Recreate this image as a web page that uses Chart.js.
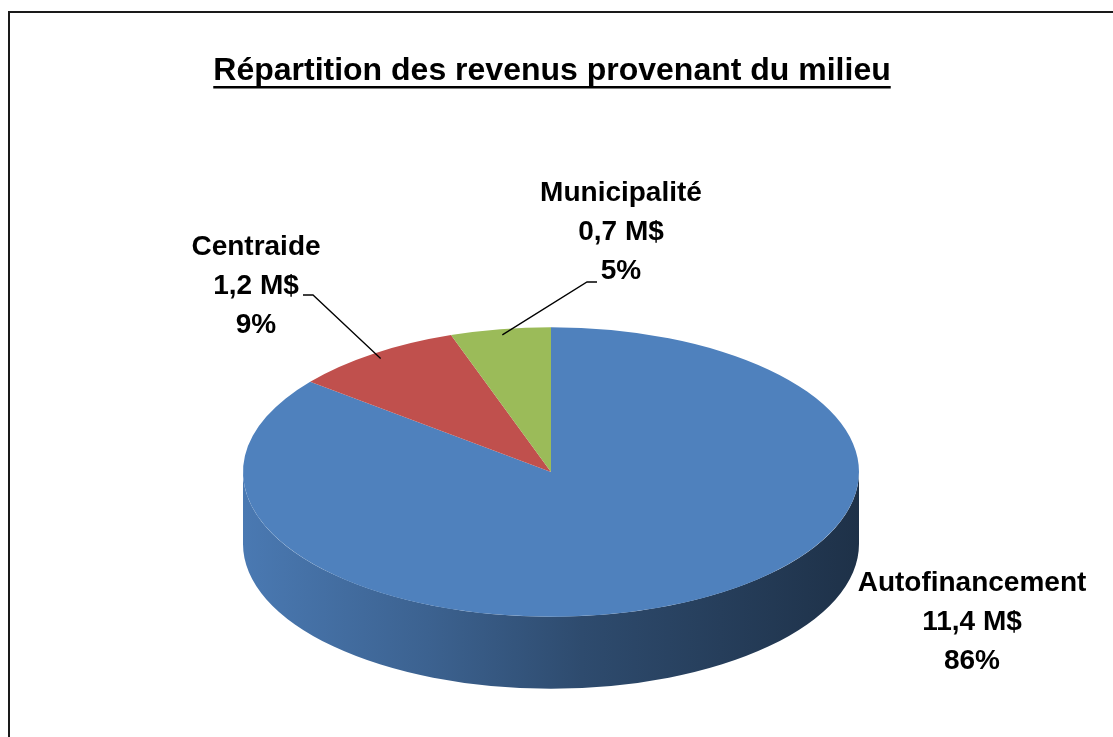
<!DOCTYPE html>
<html lang="fr">
<head>
<meta charset="utf-8">
<title>Répartition des revenus provenant du milieu</title>
<script src="https://cdn.jsdelivr.net/npm/chart.js@4.4.1/dist/chart.umd.min.js"></script>
<style>
  html, body { margin: 0; padding: 0; background: #fff; }
  canvas { display: block; }
</style>
</head>
<body>
<canvas id="pie" width="1113" height="737"></canvas>
<script>
const chartTitle = 'Répartition des revenus provenant du milieu';
const categories = ['Autofinancement', 'Centraide', 'Municipalité'];
const amounts = [11.4, 1.2, 0.7]; // en M$
const sliceColors = ['#4F81BD', '#C0504D', '#9BBB59'];

const FONT = '"Liberation Sans", Arial, sans-serif';

function shade(hex, f) {
  const n = parseInt(hex.slice(1), 16);
  const r = Math.round(((n >> 16) & 255) * f);
  const g = Math.round(((n >> 8) & 255) * f);
  const b = Math.round((n & 255) * f);
  return `rgb(${r},${g},${b})`;
}

function fmtAmount(v) {
  return v.toFixed(1).replace('.', ',') + ' M$';
}

// frame + underlined title
const framePlugin = {
  id: 'frame',
  beforeDraw(chart, args, opts) {
    const ctx = chart.ctx;
    ctx.save();
    ctx.fillStyle = '#fff';
    ctx.fillRect(0, 0, chart.width, chart.height);
    ctx.fillStyle = '#1a1a1a';
    ctx.fillRect(8, 11, 2, chart.height);
    ctx.fillRect(8, 11, chart.width, 2);

    ctx.font = `bold ${opts.size}px ${FONT}`;
    ctx.textAlign = 'center';
    ctx.textBaseline = 'alphabetic';
    ctx.fillStyle = '#000';
    ctx.fillText(chartTitle, opts.x, opts.y);
    const w = ctx.measureText(chartTitle).width;
    ctx.fillRect(opts.x - w / 2, opts.y + 6, w, 2.5);
    ctx.restore();
  }
};

// pseudo 3D: squash the flat pie and draw its side wall
const tiltPlugin = {
  id: 'tilt',
  beforeDatasetsDraw(chart, args, opts) {
    const ctx = chart.ctx;
    const els = chart.getDatasetMeta(0).data;
    if (!els.length) return;
    const { x: cx, y: cy, outerRadius: R } = els[0];
    const ry = R * opts.squash;
    const Y = opts.centerY;

    els.forEach((el, i) => {
      const a0 = Math.max(el.startAngle, 0);
      const a1 = Math.min(el.endAngle, Math.PI);
      if (a1 <= a0) return;
      const base = sliceColors[i];
      const grad = ctx.createLinearGradient(cx - R, 0, cx + R, 0);
      grad.addColorStop(0, shade(base, 0.94));
      grad.addColorStop(0.3, shade(base, 0.76));
      grad.addColorStop(0.55, shade(base, 0.58));
      grad.addColorStop(1, shade(base, 0.38));
      ctx.beginPath();
      ctx.ellipse(cx, Y, R, ry, 0, a0, a1);
      ctx.ellipse(cx, Y + opts.depth, R, ry, 0, a1, a0, true);
      ctx.closePath();
      ctx.fillStyle = grad;
      ctx.fill();
    });

    ctx.save();
    chart.$tilted = true;
    ctx.translate(0, Y);
    ctx.scale(1, opts.squash);
    ctx.translate(0, -cy);
  },
  afterDatasetsDraw(chart) {
    if (chart.$tilted) {
      chart.ctx.restore();
      chart.$tilted = false;
    }
  }
};

// data labels with leader lines
const labelPlugin = {
  id: 'sliceLabels',
  afterDraw(chart, args, opts) {
    const ctx = chart.ctx;
    const els = chart.getDatasetMeta(0).data;
    if (!els.length) return;
    const total = amounts.reduce((a, b) => a + b, 0);
    const tilt = chart.options.plugins.tilt;
    ctx.save();
    els.forEach((el, i) => {
      const box = opts.boxes[i];
      if (box.lead) {
        const mid = (el.startAngle + el.endAngle) / 2;
        const r = el.outerRadius * 0.96;
        const ax = el.x + r * Math.cos(mid);
        const ay = tilt.centerY + r * tilt.squash * Math.sin(mid);
        ctx.beginPath();
        ctx.moveTo(box.lead[0][0], box.lead[0][1]);
        ctx.lineTo(box.lead[1][0], box.lead[1][1]);
        ctx.lineTo(ax, ay);
        ctx.strokeStyle = '#000';
        ctx.lineWidth = 1.3;
        ctx.stroke();
      }
      const lines = [categories[i], fmtAmount(amounts[i]), Math.round(amounts[i] / total * 100) + '%'];
      ctx.font = `bold ${opts.size}px ${FONT}`;
      ctx.fillStyle = '#000';
      ctx.textAlign = 'center';
      ctx.textBaseline = 'middle';
      lines.forEach((t, k) => {
        ctx.fillText(t, box.x, box.y + (k - 1) * opts.lineHeight);
      });
    });
    ctx.restore();
  }
};

new Chart(document.getElementById('pie'), {
  type: 'pie',
  data: {
    labels: categories,
    datasets: [{
      data: amounts,
      backgroundColor: sliceColors,
      borderWidth: 0,
      hoverOffset: 0,
      clip: false
    }]
  },
  options: {
    responsive: false,
    animation: false,
    events: [],
    layout: { padding: { left: 243, right: 254, top: 60, bottom: 61 } },
    plugins: {
      legend: { display: false },
      tooltip: { enabled: false },
      title: { display: false },
      frame: { x: 552, y: 80, size: 32 },
      tilt: { centerY: 472, squash: 0.47, depth: 72 },
      sliceLabels: {
        size: 28,
        lineHeight: 39,
        boxes: [
          { x: 972, y: 622, lead: null },
          { x: 256, y: 286, lead: [[303, 295], [313, 295]] },
          { x: 621, y: 232, lead: [[597, 282], [587, 282]] }
        ]
      }
    }
  },
  plugins: [framePlugin, tiltPlugin, labelPlugin]
});
</script>
</body>
</html>
